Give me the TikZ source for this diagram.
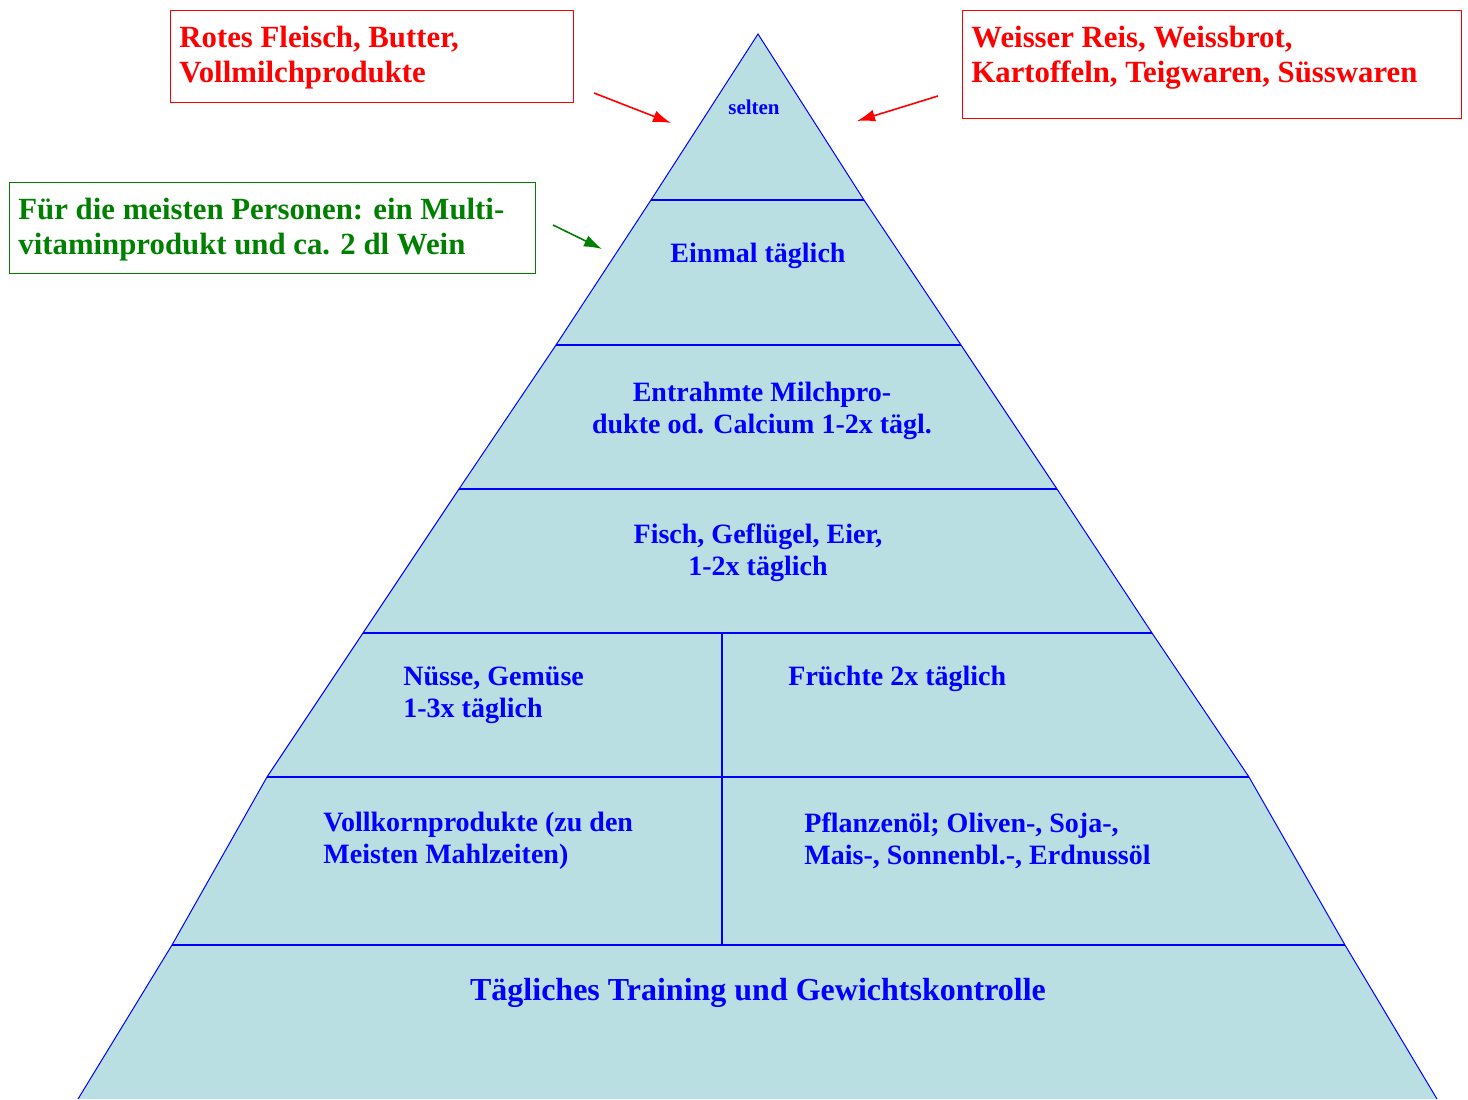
\documentclass[tikz,border=0pt]{standalone}
\usepackage{fontspec}
\setmainfont{Liberation Serif}
\usetikzlibrary{arrows.meta}
\definecolor{pyrfill}{RGB}{185,223,226}
\definecolor{darkgreen}{RGB}{0,128,0}
\tikzset{
	layertext/.style={text=blue,font=\bfseries\fontsize{14}{16}\selectfont,align=center,inner sep=0pt},
	layerleft/.style={layertext,align=left,anchor=west},
	notebox/.style={draw,line width=0.7pt,minimum height=#1,anchor=north west,inner sep=0pt},
	notetext/.style={font=\bfseries\fontsize{15.4}{17.5}\selectfont,align=left,anchor=west,inner sep=0pt},
	hint/.style={-{Latex[length=9pt,width=6pt]},line width=0.8pt},
}
\begin{document}
\begin{tikzpicture}[x=0.5pt,y=-0.5pt]
		\useasboundingbox (0,0) rectangle (1468,1099);
		%Corners of the pyramid layers
		\coordinate (apex) at (758,34);
		\coordinate (l1) at (651,200);
		\coordinate (r1) at (864,200);
		\coordinate (l2) at (556,345);
		\coordinate (r2) at (961,345);
		\coordinate (l3) at (459,489);
		\coordinate (r3) at (1057,489);
		\coordinate (l4) at (363,633);
		\coordinate (r4) at (1152,633);
		\coordinate (l5) at (267,777);
		\coordinate (r5) at (1249,777);
		\coordinate (l6) at (172,945);
		\coordinate (r6) at (1345,945);
		\coordinate (bl) at (78,1099);
		\coordinate (br) at (1437,1099);
		%Outer hull
		\fill[pyrfill] (apex) -- (l1) -- (l2) -- (l3) -- (l4) -- (l5) -- (l6) -- (bl)
			-- (br) -- (r6) -- (r5) -- (r4) -- (r3) -- (r2) -- (r1) -- cycle;
		\draw[blue,line width=0.5pt] (bl) -- (l6) -- (l5) -- (l4) -- (l3) -- (l2) -- (l1) -- (apex)
			-- (r1) -- (r2) -- (r3) -- (r4) -- (r5) -- (r6) -- (br);
		%Layer lines
		\foreach \i in {1,...,6} {
			\draw[blue,line width=0.9pt] (l\i) -- (r\i);
		}
		%Split of the two lower layers
		\coordinate (splitTop) at (722,633);
		\coordinate (splitBot) at (722,945);
		\draw[blue,line width=0.9pt] (splitTop) -- (splitBot);
		% Texts in the layers
		\node [layertext,font=\bfseries\fontsize{10.5}{12}\selectfont] (selten) at (754,107) {selten};
		\node [layertext] (einmal) at (758,256) {Einmal täglich};
		\node [layertext] (milch) at (762,411) {Entrahmte Milchpro-\\dukte od. Calcium 1-2x tägl.};
		\node [layertext] (fisch) at (758,553) {Fisch, Geflügel, Eier,\\1-2x täglich};
		\node [layerleft] (nuesse) at (403,695) {Nüsse, Gemüse\\1-3x täglich};
		\node [layerleft] (fruechte) at (788,679) {Früchte 2x täglich};
		\node [layerleft] (vollkorn) at (323,841) {Vollkornprodukte (zu den\\Meisten Mahlzeiten)};
		\node [layerleft] (oel) at (804,841) {Pflanzenöl; Oliven-, Soja-,\\Mais-, Sonnenbl.-, Erdnussöl};
		\node [layertext,font=\bfseries\fontsize{16}{18}\selectfont] (training) at (758,993) {Tägliches Training und Gewichtskontrolle};
		%Boxes with notes
		\node [notebox=46pt,red,minimum width=201.5pt] (fleischBox) at (170,10) {};
		\node [notetext,red] (fleisch) at (179,58) {Rotes Fleisch, Butter,\\Vollmilchprodukte};
		\node [notebox=54pt,red,minimum width=249.5pt] (reisBox) at (962,10) {};
		\node [notetext,red] (reis) at (971,58) {Weisser Reis, Weissbrot,\\Kartoffeln, Teigwaren, Süsswaren};
		\node [notebox=45.5pt,darkgreen,minimum width=263pt] (vitBox) at (9,182) {};
		\node [notetext,darkgreen] (vit) at (18,230) {Für die meisten Personen: ein Multi-\\vitaminprodukt und ca. 2 dl Wein};
		%Arrows pointing to the pyramid
		\coordinate (fleischFrom) at (594,93);
		\coordinate (fleischTo) at (671,123);
		\coordinate (reisFrom) at (938,96);
		\coordinate (reisTo) at (857,121);
		\coordinate (vitFrom) at (553,225);
		\coordinate (vitTo) at (602,249);
		\draw [hint,red] (fleischFrom) -- (fleischTo);
		\draw [hint,red] (reisFrom) -- (reisTo);
		\draw [hint,darkgreen] (vitFrom) -- (vitTo);
\end{tikzpicture}
\end{document}
